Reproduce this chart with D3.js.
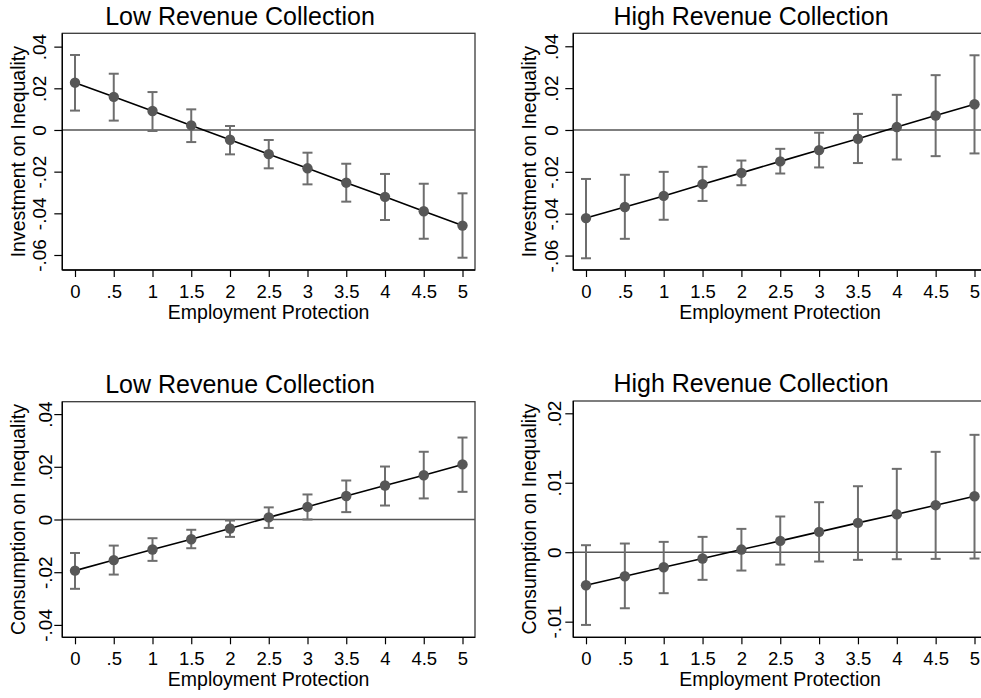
<!DOCTYPE html>
<html>
<head>
<meta charset="utf-8">
<script src="https://cdn.jsdelivr.net/npm/d3@7"></script>
<style>
  html, body { margin: 0; padding: 0; background: #fff; }
  svg { display: block; font-family: "Liberation Sans", Arial, Helvetica, sans-serif; }
</style>
</head>
<body>
<svg id="chart" width="981" height="698"></svg>
<script>
// Employment protection levels (x axis)
const epLevels = [0, 0.5, 1, 1.5, 2, 2.5, 3, 3.5, 4, 4.5, 5];
const xTickLabels = ["0", ".5", "1", "1.5", "2", "2.5", "3", "3.5", "4", "4.5", "5"];

// Marginal effect of investment on inequality, low revenue collection
const invLowEst = [0.0227, 0.0159, 0.0091, 0.0022, -0.0047, -0.0116, -0.0184, -0.0253, -0.0321, -0.0390, -0.0459];
const invLowUpper = [0.0360, 0.0270, 0.0182, 0.0099, 0.0019, -0.0048, -0.0109, -0.0162, -0.0211, -0.0258, -0.0304];
const invLowLower = [0.0093, 0.0045, -0.0005, -0.0058, -0.0117, -0.0184, -0.0261, -0.0344, -0.0432, -0.0522, -0.0613];

// Marginal effect of investment on inequality, high revenue collection
const invHighEst = [-0.0421, -0.0368, -0.0315, -0.0259, -0.0205, -0.0150, -0.0096, -0.0042, 0.0014, 0.0069, 0.0123];
const invHighUpper = [-0.0234, -0.0214, -0.0200, -0.0176, -0.0146, -0.0090, -0.0013, 0.0077, 0.0168, 0.0262, 0.0357];
const invHighLower = [-0.0613, -0.0520, -0.0429, -0.0339, -0.0264, -0.0208, -0.0179, -0.0158, -0.0141, -0.0125, -0.0112];

// Marginal effect of consumption on inequality, low revenue collection
const conLowEst = [-0.0194, -0.0154, -0.0114, -0.0075, -0.0034, 0.0008, 0.0048, 0.0089, 0.0129, 0.0168, 0.0209];
const conLowUpper = [-0.0127, -0.0099, -0.0071, -0.0039, -0.0004, 0.0046, 0.0095, 0.0148, 0.0201, 0.0257, 0.0311];
const conLowLower = [-0.0263, -0.0209, -0.0157, -0.0109, -0.0066, -0.0032, 0.0000, 0.0028, 0.0053, 0.0080, 0.0105];

// Marginal effect of consumption on inequality, high revenue collection
const conHighEst = [-0.00475, -0.00346, -0.00216, -0.00091, 0.00038, 0.00163, 0.00293, 0.00422, 0.00547, 0.00677, 0.00806];
const conHighUpper = [0.00101, 0.00125, 0.00149, 0.00221, 0.00336, 0.00514, 0.00720, 0.00950, 0.01200, 0.01445, 0.01690];
const conHighLower = [-0.01047, -0.00807, -0.00590, -0.00398, -0.00264, -0.00178, -0.00134, -0.00110, -0.00101, -0.00096, -0.00091];

// Y-axis ticks for each panel
const invTicks = [-0.06, -0.04, -0.02, 0, 0.02, 0.04];
const conLowTicks = [-0.04, -0.02, 0, 0.02, 0.04];
const conHighTicks = [-0.01, 0, 0.01, 0.02];

const titles = ["Low Revenue Collection", "High Revenue Collection"];
const xTitle = "Employment Protection";
const yTitles = ["Investment on Inequality", "Consumption on Inequality"];

// Stata-style number labels: ".04", "-.02", "0"
function stataFmt(v) {
  if (Math.abs(v) < 1e-12) return "0";
  let s = String(+v.toFixed(4));
  return s.replace(/^(-?)0\./, "$1.");
}

const panels = [
  { left: 62.3, top: 33.3, right: 475, bottom: 270, title: titles[0], yTitle: yTitles[0], labelGap: 16,
    yDomain: [-0.0672, 0.0464], ticks: invTicks, est: invLowEst, hi: invLowUpper, lo: invLowLower },
  { left: 573.3, top: 33.3, right: 987, bottom: 270, title: titles[1], yTitle: yTitles[0], labelGap: 15,
    yDomain: [-0.0669, 0.0462], ticks: invTicks, est: invHighEst, hi: invHighUpper, lo: invHighLower },
  { left: 62.3, top: 401.7, right: 475, bottom: 637.3, title: titles[0], yTitle: yTitles[1], labelGap: 10,
    yDomain: [-0.0447, 0.0447], ticks: conLowTicks, est: conLowEst, hi: conLowUpper, lo: conLowLower },
  { left: 573.3, top: 401, right: 987, bottom: 637.3, title: titles[1], yTitle: yTitles[1], labelGap: 12,
    yDomain: [-0.01225, 0.02177], ticks: conHighTicks, est: conHighEst, hi: conHighUpper, lo: conHighLower }
];

const svg = d3.select("#chart");

panels.forEach(p => {
  const g = svg.append("g");
  const x = d3.scaleLinear().domain([0, 5]).range([p.left + 12.7, p.right - 12.5]);
  const y = d3.scaleLinear().domain(p.yDomain).range([p.bottom, p.top]);

  // plot frame
  g.append("rect")
    .attr("x", p.left).attr("y", p.top)
    .attr("width", p.right - p.left).attr("height", p.bottom - p.top)
    .attr("fill", "none").attr("stroke", "#3a3a3a").attr("stroke-width", 1.3);

  // zero reference line
  g.append("line")
    .attr("x1", p.left).attr("x2", p.right)
    .attr("y1", y(0)).attr("y2", y(0))
    .attr("stroke", "#555").attr("stroke-width", 1.6);

  // x axis
  const xAxis = d3.axisBottom(x)
    .tickValues(epLevels)
    .tickFormat((d, i) => xTickLabels[i])
    .tickSize(7).tickSizeOuter(0).tickPadding(3);
  const gx = g.append("g").attr("transform", `translate(0,${p.bottom})`).call(xAxis);
  gx.select(".domain").attr("stroke", "#000").attr("stroke-width", 1.3)
    .attr("d", `M${p.left},0H${p.right}`);
  gx.selectAll(".tick line").attr("stroke", "#000").attr("stroke-width", 1.2);
  gx.selectAll(".tick text")
    .attr("font-family", "Liberation Sans, Arial, sans-serif")
    .attr("font-size", 18.5).attr("fill", "#000")
    .attr("dy", null).attr("y", 27.5);

  // y axis with rotated labels
  const yAxis = d3.axisLeft(y)
    .tickValues(p.ticks)
    .tickFormat(stataFmt)
    .tickSize(8).tickSizeOuter(0);
  const gy = g.append("g").attr("transform", `translate(${p.left},0)`).call(yAxis);
  gy.select(".domain").attr("stroke", "#000").attr("stroke-width", 1.3)
    .attr("d", `M0,${p.top}V${p.bottom}`);
  gy.selectAll(".tick line").attr("stroke", "#000").attr("stroke-width", 1.2);
  gy.selectAll(".tick text")
    .attr("font-family", "Liberation Sans, Arial, sans-serif")
    .attr("font-size", 19).attr("fill", "#000")
    .attr("x", null).attr("dy", null)
    .attr("text-anchor", "middle")
    .attr("transform", `translate(${-p.labelGap},0) rotate(-90)`);

  // y axis title
  g.append("text")
    .attr("transform", `translate(${p.left - 37},${(p.top + p.bottom) / 2}) rotate(-90)`)
    .attr("text-anchor", "middle")
    .attr("font-size", 19.5).attr("fill", "#000")
    .text(p.yTitle);

  // x axis title
  g.append("text")
    .attr("x", (p.left + p.right) / 2).attr("y", p.bottom + 49)
    .attr("text-anchor", "middle")
    .attr("font-size", 19.5).attr("fill", "#000")
    .text(xTitle);

  // panel title
  g.append("text")
    .attr("x", p.left + 177.7).attr("y", p.top - 8.6)
    .attr("text-anchor", "middle")
    .attr("font-size", 25).attr("fill", "#000")
    .text(p.title);

  const pts = epLevels.map((v, i) => ({ ep: v, est: p.est[i], hi: p.hi[i], lo: p.lo[i] }));

  // confidence intervals
  const ci = g.append("g").attr("stroke", "#6e6e6e").attr("stroke-width", 2).attr("fill", "none");
  ci.selectAll("line.ci").data(pts).join("line").attr("class", "ci")
    .attr("x1", d => x(d.ep)).attr("x2", d => x(d.ep))
    .attr("y1", d => y(d.hi)).attr("y2", d => y(d.lo));
  ci.selectAll("line.cap-hi").data(pts).join("line").attr("class", "cap-hi")
    .attr("x1", d => x(d.ep) - 5).attr("x2", d => x(d.ep) + 5)
    .attr("y1", d => y(d.hi)).attr("y2", d => y(d.hi));
  ci.selectAll("line.cap-lo").data(pts).join("line").attr("class", "cap-lo")
    .attr("x1", d => x(d.ep) - 5).attr("x2", d => x(d.ep) + 5)
    .attr("y1", d => y(d.lo)).attr("y2", d => y(d.lo));

  // connecting line
  g.append("path").datum(pts)
    .attr("fill", "none").attr("stroke", "#000").attr("stroke-width", 1.6)
    .attr("d", d3.line().x(d => x(d.ep)).y(d => y(d.est)));

  // point estimates
  g.selectAll("circle.pt").data(pts).join("circle").attr("class", "pt")
    .attr("cx", d => x(d.ep)).attr("cy", d => y(d.est))
    .attr("r", 5.2).attr("fill", "#575757");
});
</script>
</body>
</html>
